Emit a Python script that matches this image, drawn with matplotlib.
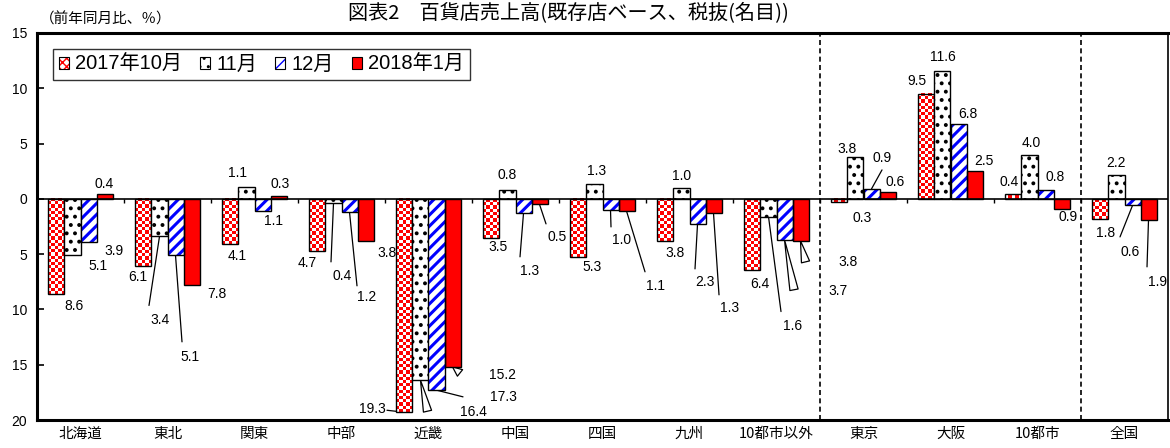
import numpy as np
import matplotlib
matplotlib.use("Agg")
import matplotlib.pyplot as plt
from matplotlib.colors import ListedColormap
from matplotlib.patches import Patch
from matplotlib.legend_handler import HandlerTuple

plt.rcParams['font.family'] = ['Liberation Sans', 'Noto Sans CJK JP', 'DejaVu Sans']
plt.rcParams['hatch.linewidth'] = 1.0

regions = ["北海道", "東北", "関東", "中部", "近畿", "中国", "四国", "九州",
           "10都市以外", "東京", "大阪", "10都市", "全国"]
series_names = ["2017年10月", "11月", "12月", "2018年1月"]
oct17 = [-8.6, -6.1, -4.1, -4.7, -19.3, -3.5, -5.3, -3.8, -6.4, -0.3, 9.5, 0.4, -1.8]
nov17 = [-5.1, -3.4, 1.1, -0.4, -16.4, 0.8, 1.3, 1.0, -1.6, 3.8, 11.6, 4.0, 2.2]
dec17 = [-3.9, -5.1, -1.1, -1.2, -17.3, -1.3, -1.0, -2.3, -3.7, 0.9, 6.8, 0.8, -0.6]
jan18 = [0.4, -7.8, 0.3, -3.8, -15.2, -0.5, -1.1, -1.3, -3.8, 0.6, 2.5, -0.9, -1.9]

# label placement: pixel offset of the text from the bar end (y down),
# optionally the end point of a leader line / wedge
oct_lay = [(17.5, 12), (-5.5, 10.5), (6.5, 12), (-10.5, 12), (-32.5, -3.5, -17.5, -2, 'line'),
           (6.5, 9.3), (13.5, 9.4), (9.5, 12), (7.5, 14), (22.5, 15.7), (-9.5, -13),
           (-4.5, -12.6), (5.5, 14)]
nov_lay = [(25.5, 10.5), (0.5, 84, -10.5, 69, 'line'), (-8.5, -14), (8.5, 72.6, -2.5, 58.6, 'line'),
           (52.5, 31.6, 7, 31, 'wedge'), (-0.5, -15), (2.5, -13.6), (0.5, -12),
           (24.5, 109, 12.5, 95, 'line'), (-8.5, -8), (0.5, -13.7), (1.5, -11.8), (-0.5, -11.7)]
dec_lay = [(25.5, 9), (14.5, 101.6, 6.5, 86.6, 'line'), (10.5, 10), (17.5, 84.7, 7.5, 73.7, 'line'),
           (66.5, 6.7, 26.5, 6.7, 'line'), (6.5, 57.6, -3.5, 43.6, 'line'), (11.5, 30, 0.5, 17, 'line'),
           (7.5, 57.6, -2.5, 44.6, 'line'), (53.5, 51, 9.5, 50, 'wedge'), (10.5, -31, 10.5, -19, 'line'),
           (9.5, -9.8), (9.5, -13.2), (-2.5, 46.4, -12.5, 31.4, 'line')]
jan_lay = [(0, -10), (25.5, 9), (1.5, -12), (21.5, 12), (49.5, 8, 7.5, 6, 'wedge'),
           (17.5, 32.5, 6.5, 19.5, 'line'), (28.5, 74.8, 18.5, 60.8, 'line'),
           (16.5, 94.6, 5.5, 81.6, 'line'), (47.5, 21, 5, 21, 'wedge'), (7.5, -10.4),
           (9.5, -10.3), (6.5, 8), (8.5, 62, -1.5, 47, 'line')]

fig = plt.figure(figsize=(11.7, 4.48), dpi=100)
ax = fig.add_axes([37 / 1170, 28 / 448, 1131 / 1170, 387 / 448])
ax.set_xlim(-0.5, len(regions) - 0.5)
ax.set_ylim(-20, 15)
ax.set_autoscale_on(False)

x = np.arange(len(regions))
w = 0.184

b_oct = ax.bar(x - 1.5 * w, oct17, w, facecolor='none', edgecolor='black', lw=1.0, zorder=3)
b_nov = ax.bar(x - 0.5 * w, nov17, w, facecolor='white', edgecolor='black', hatch='..', lw=1.0, zorder=3)
b_dec = ax.bar(x + 0.5 * w, dec17, w, facecolor='white', edgecolor='#0000ff', hatch='///', lw=0, zorder=3)
for p in b_dec:
    if hasattr(p, 'set_hatch_linewidth'):
        p.set_hatch_linewidth(2.2)
for p in b_nov:
    if hasattr(p, 'set_hatch_linewidth'):
        p.set_hatch_linewidth(1.6)
ax.bar(x + 0.5 * w, dec17, w, facecolor='none', edgecolor='black', lw=1.0, zorder=3.1)
b_jan = ax.bar(x + 1.5 * w, jan18, w, facecolor='#ff0000', edgecolor='black', lw=1.0, zorder=3)

# checkerboard fill for the October bars
checker_cmap = ListedColormap(['white', '#ff0000'])
for rect in b_oct:
    x0, y0 = rect.get_x(), rect.get_y()
    rw, rh = rect.get_width(), rect.get_height()
    p0 = ax.transData.transform((x0, y0))
    p1 = ax.transData.transform((x0 + rw, y0 + rh))
    nx = max(1, int(round(abs(p1[0] - p0[0]) / 3.2)))
    ny = max(1, int(round(abs(p1[1] - p0[1]) / 3.2)))
    grid = (np.add.outer(np.arange(ny), np.arange(nx)) % 2)
    ax.imshow(grid, cmap=checker_cmap, vmin=0, vmax=1, interpolation='nearest', aspect='auto',
              extent=(x0, x0 + rw, min(y0, y0 + rh), max(y0, y0 + rh)), clip_path=rect, zorder=2.9)

ax.set_xlim(-0.5, len(regions) - 0.5)
ax.set_ylim(-20, 15)

ax.axhline(0, color='black', lw=1.2, zorder=4)
ax.vlines(x[:-1] + 0.5, -0.35, 0, color='black', lw=1.0, zorder=4)
for bx in [8.5, 11.5]:
    ax.axvline(bx, color='black', lw=1.2, ls=(0, (3, 2)), zorder=1)


def put_labels(xs, vals, layout):
    for xi, v, lay in zip(xs, vals, layout):
        ax.annotate(f"{abs(v):.1f}", (xi, v), xytext=(lay[0], -lay[1]), textcoords='offset pixels',
                    ha='center', va='center', fontsize=10, zorder=6)
        if len(lay) > 2:
            lx, ly, kind = lay[2:]
            if kind == 'line':
                props = dict(arrowstyle='-', color='black', lw=0.9, shrinkA=0, shrinkB=0)
            else:
                props = dict(arrowstyle='wedge,tail_width=0.6,shrink_factor=0.5', fc='white',
                             ec='black', lw=0.9, shrinkA=0, shrinkB=0)
            ax.annotate("", (xi, v), xytext=(lx, -ly), textcoords='offset pixels',
                        arrowprops=props, zorder=2)


put_labels(x - 1.5 * w, oct17, oct_lay)
put_labels(x - 0.5 * w, nov17, nov_lay)
put_labels(x + 0.5 * w, dec17, dec_lay)
put_labels(x + 1.5 * w, jan18, jan_lay)

yt = list(range(-20, 16, 5))
ax.set_yticks(yt, [str(abs(t)) for t in yt])
ax.tick_params(axis='y', direction='in', length=5, width=1.2, labelsize=10, pad=7)
ax.set_xticks(x, regions)
ax.tick_params(axis='x', length=0, pad=5, labelsize=10.5)
for lab in ax.get_xticklabels():
    lab.set_family(['Noto Sans CJK JP'])

for side in ['left', 'top', 'bottom']:
    ax.spines[side].set_linewidth(2.2)
ax.spines['right'].set_linewidth(1.2)

handles = [
    (Patch(facecolor='white', edgecolor='#ff0000', hatch='xxxx', lw=0), Patch(facecolor='none', edgecolor='black', lw=0.8)),
    Patch(facecolor='white', edgecolor='black', hatch='..', lw=0.8),
    (Patch(facecolor='white', edgecolor='#0000ff', hatch='///', lw=0), Patch(facecolor='none', edgecolor='black', lw=0.8)),
    Patch(facecolor='#ff0000', edgecolor='black', lw=0.8),
]
leg = ax.legend(handles, series_names, handler_map={tuple: HandlerTuple(ndivide=1, pad=0)},
                loc='upper left', bbox_to_anchor=(53 / 1170, 1 - 49 / 448), bbox_transform=fig.transFigure,
                ncol=4, fontsize=14.5, frameon=True, fancybox=False, shadow=False,
                handlelength=0.5, handleheight=0.5, handletextpad=0.3, columnspacing=0.9,
                borderpad=0.3, borderaxespad=0)
leg.get_frame().set_edgecolor('black')
leg.get_frame().set_linewidth(1.0)

fig.text(40 / 1170, 1 - 19 / 448, "（前年同月比、％）", fontsize=10.5, family=['Noto Sans CJK JP'],
         ha='left', va='center')
fig.text(0.486, 1 - 13 / 448, "図表2　百貨店売上高(既存店ベース、税抜(名目))", fontsize=14.5,
         family=['Noto Sans CJK JP'], ha='center', va='center')

fig.savefig("out.png", dpi=100)
